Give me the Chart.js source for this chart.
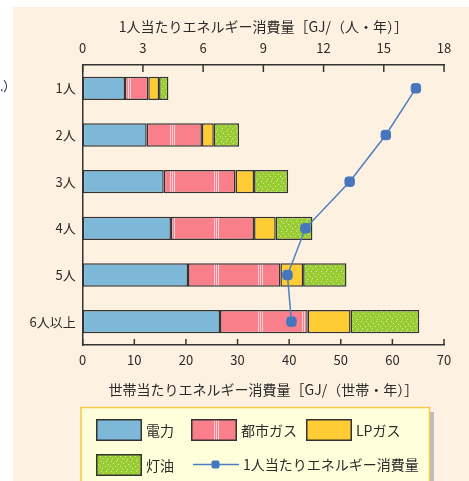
<!DOCTYPE html>
<html>
<head>
<meta charset="utf-8">
<script src="https://cdn.jsdelivr.net/npm/chart.js@4/dist/chart.umd.min.js"></script>
<style>
  html, body { margin: 0; padding: 0; background: #ffffff; }
  canvas { display: block; }
</style>
</head>
<body>
<canvas id="chart" width="469" height="481"></canvas>
<script>
// Household size categories
const categories = ['1人', '2人', '3人', '4人', '5人', '6人以上'];

// Energy use per household [GJ/(世帯・年)], by source
const seriesNames = ['電力', '都市ガス', 'LPガス', '灯油'];
const electricity = [8.2, 12.4, 15.7, 17.1, 20.4, 26.6];
const cityGas     = [4.5, 10.7, 13.9, 16.1, 17.9, 17.0];
const lpGas       = [2.1, 2.3, 3.6, 4.2, 4.4, 8.3];
const kerosene    = [1.8, 4.9, 6.6, 7.1, 8.4, 13.3];

// Energy use per person [GJ/(人・年)]
const perPersonName = '1人当たりエネルギー消費量';
const perPerson = [16.6, 15.1, 13.3, 11.1, 10.2, 10.4];

// Axis tick labels
const householdTicks = [0, 10, 20, 30, 40, 50, 60, 70];
const perPersonTicks = [0, 3, 6, 9, 12, 15, 18];

const householdTitle = '世帯当たりエネルギー消費量［GJ/（世帯・年）］';
const perPersonTitle = '1人当たりエネルギー消費量［GJ/（人・年）］';

const FONT = '"Noto Sans CJK JP", "Noto Sans", sans-serif';
const INK = '#2b2b2b';

const canvas = document.getElementById('chart');
const ctx = canvas.getContext('2d');

// Pink fill with thin light vertical stripes (city gas)
function makeStripePattern() {
  const c = document.createElement('canvas');
  c.width = 44; c.height = 4;
  const g = c.getContext('2d');
  g.fillStyle = '#F9808A';
  g.fillRect(0, 0, 44, 4);
  g.fillStyle = '#FFD3D7';
  [38, 40, 42].forEach(x => g.fillRect(x, 0, 1, 4));
  return ctx.createPattern(c, 'repeat');
}

// Green fill speckled with light dots (kerosene)
function makeDotPattern() {
  const c = document.createElement('canvas');
  c.width = 10; c.height = 10;
  const g = c.getContext('2d');
  g.fillStyle = '#99CC33';
  g.fillRect(0, 0, 10, 10);
  g.fillStyle = '#D8EFA6';
  [[1, 1], [6, 1], [3, 3], [8, 4], [0, 6], [5, 6], [2, 8], [7, 9]].forEach(([x, y]) => g.fillRect(x, y, 1, 1));
  return ctx.createPattern(c, 'repeat');
}

const stripe = makeStripePattern();
const dots = makeDotPattern();

const fills = ['#7DB8D8', stripe, '#FFCC33', dots];
const seriesData = [electricity, cityGas, lpGas, kerosene];
const LINE_COLOR = '#4E7FC2';

const barSets = seriesNames.map((name, i) => ({
  type: 'bar',
  label: name,
  data: seriesData[i],
  backgroundColor: fills[i],
  borderColor: '#333333',
  borderWidth: 1.5,
  borderSkipped: false,
  xAxisID: 'x',
  yAxisID: 'y',
  stack: 'household',
  barPercentage: 0.5,
  categoryPercentage: 1.0,
  order: 2
}));

const lineSet = {
  type: 'line',
  label: perPersonName,
  data: perPerson,
  borderColor: LINE_COLOR,
  borderWidth: 1.5,
  backgroundColor: LINE_COLOR,
  pointStyle: 'rectRounded',
  pointRadius: 5.5,
  pointBackgroundColor: '#4677BE',
  pointBorderColor: '#4677BE',
  pointBorderWidth: 1,
  xAxisID: 'x2',
  yAxisID: 'y',
  stack: 'person',
  order: 0
};

// Page background: cream panel and the cut-off note on the left
const backdrop = {
  id: 'backdrop',
  beforeDraw(chart) {
    const c = chart.ctx;
    c.save();
    c.fillStyle = '#ffffff';
    c.fillRect(0, 0, chart.width, chart.height);
    c.fillStyle = '#FDF1E1';
    c.fillRect(13, 7, chart.width - 13, chart.height - 7);
    c.fillStyle = INK;
    c.font = '13px ' + FONT;
    c.textBaseline = 'middle';
    c.fillText('.', 0, 86);
    c.fillText('）', 3, 86);
    c.restore();
  }
};

// Short tick marks pointing into the plot from both horizontal axes
const innerTicks = {
  id: 'innerTicks',
  afterDatasetsDraw(chart) {
    const c = chart.ctx;
    const area = chart.chartArea;
    c.save();
    c.strokeStyle = '#333333';
    c.lineWidth = 1.5;
    const xs = chart.scales.x, xt = chart.scales.x2;
    xs.ticks.forEach(t => {
      const px = xs.getPixelForValue(t.value);
      c.beginPath(); c.moveTo(px, area.bottom); c.lineTo(px, area.bottom - 6); c.stroke();
    });
    xt.ticks.forEach(t => {
      const px = xt.getPixelForValue(t.value);
      c.beginPath(); c.moveTo(px, area.top); c.lineTo(px, area.top + 7); c.stroke();
    });
    c.restore();
  }
};

// Boxed legend below the plot
const boxLegend = {
  id: 'boxLegend',
  afterDraw(chart) {
    const c = chart.ctx;
    c.save();
    // shadow and box
    c.fillStyle = '#BDBDBD';
    c.fillRect(430, 412, 4, 80);
    c.fillStyle = '#FFFFDC';
    c.fillRect(81, 407, 349, 80);
    c.strokeStyle = '#F5C84E';
    c.lineWidth = 1.5;
    c.strokeRect(81, 407.5, 348.5, 80);

    const sets = chart.data.datasets;
    const swatches = [
      { ds: 0, x: 96,  y: 419 },
      { ds: 1, x: 191, y: 419 },
      { ds: 2, x: 306, y: 419 },
      { ds: 3, x: 96,  y: 454 }
    ];
    c.font = '14px ' + FONT;
    c.textBaseline = 'middle';
    swatches.forEach(s => {
      const d = sets[s.ds];
      c.fillStyle = d.backgroundColor;
      c.fillRect(s.x, s.y, 46, 22);
      c.strokeStyle = '#333333';
      c.lineWidth = 1.5;
      c.strokeRect(s.x + 0.75, s.y + 0.75, 44.5, 20.5);
      c.fillStyle = INK;
      c.fillText(d.label, s.x + 50, s.y + 12);
    });
    // line entry
    const ln = sets[4];
    const ly = 464.5;
    c.strokeStyle = ln.borderColor;
    c.lineWidth = 1.5;
    c.beginPath(); c.moveTo(193, ly); c.lineTo(239, ly); c.stroke();
    c.fillStyle = ln.pointBackgroundColor;
    c.beginPath();
    if (c.roundRect) { c.roundRect(211.5, ly - 4, 8, 8, 2); } else { c.rect(211.5, ly - 4, 8, 8); }
    c.fill();
    c.fillStyle = INK;
    c.fillText(ln.label, 243, ly);
    c.restore();
  }
};

new Chart(canvas, {
  data: {
    labels: categories,
    datasets: [...barSets, lineSet]
  },
  options: {
    indexAxis: 'y',
    responsive: false,
    animation: false,
    devicePixelRatio: 1,
    layout: { padding: { left: 0, right: 25, top: 0, bottom: 81 } },
    plugins: {
      legend: { display: false },
      tooltip: { enabled: false }
    },
    scales: {
      x: {
        position: 'bottom',
        stacked: true,
        min: householdTicks[0],
        max: householdTicks[householdTicks.length - 1],
        afterBuildTicks: s => { s.ticks = householdTicks.map(v => ({ value: v })); },
        afterFit: s => { s.height = 55; },
        grid: { display: false, drawTicks: false },
        border: { display: true, color: '#333333', width: 1.5 },
        ticks: { padding: 7, color: INK, font: { family: FONT, size: 13 }, maxRotation: 0, autoSkip: false },
        title: {
          display: true, text: householdTitle, color: INK,
          font: { family: FONT, size: 14 }, padding: { top: 0, bottom: 2 }
        }
      },
      x2: {
        position: 'top',
        min: perPersonTicks[0],
        max: perPersonTicks[perPersonTicks.length - 1],
        afterBuildTicks: s => { s.ticks = perPersonTicks.map(v => ({ value: v })); },
        afterFit: s => { s.height = 65; },
        grid: { display: false, drawTicks: false },
        border: { display: true, color: '#333333', width: 1.5 },
        ticks: { padding: 9, color: INK, font: { family: FONT, size: 13 }, maxRotation: 0, autoSkip: false },
        title: {
          display: true, text: perPersonTitle, color: INK,
          font: { family: FONT, size: 14 }, padding: { top: 18, bottom: 0 }
        }
      },
      y: {
        position: 'left',
        stacked: true,
        afterFit: s => { s.width = 82.7; },
        grid: { display: false, drawTicks: false },
        border: { display: true, color: '#333333', width: 1.5 },
        ticks: { padding: 7, color: INK, font: { family: FONT, size: 13 } }
      }
    }
  },
  plugins: [backdrop, innerTicks, boxLegend]
});
</script>
</body>
</html>
